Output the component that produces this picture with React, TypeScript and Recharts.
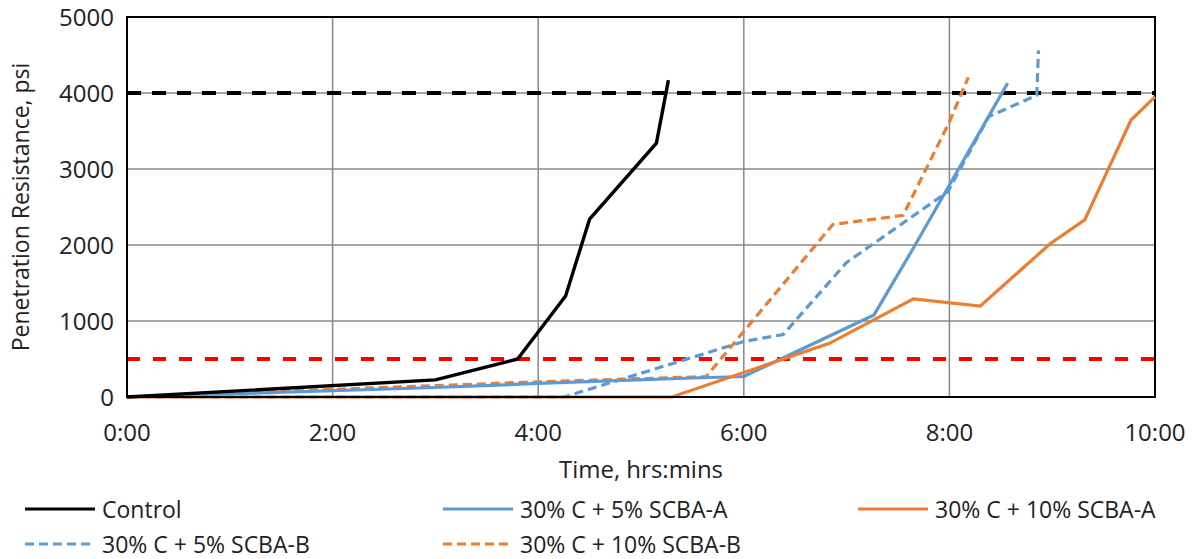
import React from "react"
import { LineChart, Line, XAxis, YAxis, CartesianGrid, ReferenceLine, ReferenceArea, Legend } from "recharts"

// times in minutes, penetration resistance in psi
const controlTime = [0, 180, 228, 256, 270, 309, 316]
const controlPsi = [0, 225, 500, 1330, 2340, 3340, 4170]

const scbaA5Time = [0, 180, 240, 330, 360, 436, 459, 514]
const scbaA5Psi = [0, 125, 178, 250, 270, 1080, 1960, 4130]

const scbaA10Time = [0, 318, 410, 459, 498, 539, 559, 586, 600]
const scbaA10Psi = [0, 0, 706, 1290, 1195, 2020, 2330, 3645, 3950]

const scbaB5Time = [0, 255, 360, 383, 420, 479, 503, 531, 532]
const scbaB5Psi = [0, 0, 730, 823, 1770, 2700, 3690, 3970, 4560]

const scbaB10Time = [0, 180, 240, 338, 412, 453, 480, 491]
const scbaB10Psi = [0, 150, 200, 268, 2270, 2390, 3620, 4205]

const xTicks = [0, 120, 240, 360, 480, 600]
const yTicks = [0, 1000, 2000, 3000, 4000, 5000]

const BLUE = "#5B9BD5"
const ORANGE = "#ED7D31"
const FONT = "'Open Sans', sans-serif"
const FS = 24

const zip = (t: number[], v: number[]) => t.map((x, i) => ({ t: x, v: v[i] }))

const fmtTime = (m: number) => `${Math.floor(m / 60)}:${String(m % 60).padStart(2, "0")}`

const legendItems = [
  { name: "Control", color: "#000", dash: undefined, left: 25, row: 0 },
  { name: "30% C + 5% SCBA-A", color: BLUE, dash: undefined, left: 443, row: 0 },
  { name: "30% C + 10% SCBA-A", color: ORANGE, dash: undefined, left: 858, row: 0 },
  { name: "30% C + 5% SCBA-B", color: BLUE, dash: "9 5", left: 25, row: 1 },
  { name: "30% C + 10% SCBA-B", color: ORANGE, dash: "9 5", left: 443, row: 1 },
]

function ChartLegend() {
  return (
    <div style={{ position: "relative", width: 1195, height: 80, fontFamily: FONT, fontSize: 23, lineHeight: "28px", color: "#222", overflow: "hidden" }}>
      {legendItems.map((it) => (
        <div
          key={it.name}
          style={{ position: "absolute", left: it.left, top: it.row === 0 ? 30 - 14 : 65 - 14, height: 28, display: "flex", alignItems: "center", whiteSpace: "nowrap" }}
        >
          <svg width={70} height={10} style={{ marginRight: 7 }}>
            <line x1={0} y1={5} x2={70} y2={5} stroke={it.color} strokeWidth={3.2} strokeDasharray={it.dash} />
          </svg>
          <span>{it.name}</span>
        </div>
      ))}
    </div>
  )
}

function YLabel() {
  return (
    <text
      x={20}
      y={207}
      transform="rotate(-90 20 207)"
      textAnchor="middle"
      dominantBaseline="central"
      style={{ fontSize: FS - 1, fill: "#222", fontFamily: FONT }}
    >
      Penetration Resistance, psi
    </text>
  )
}

export default function App() {
  const tickStyle = { fontSize: FS, fill: "#222", fontFamily: FONT }
  return (
    <div style={{ position: "absolute", left: 0, top: 0, background: "#fff" }}>
      <LineChart width={1195} height={559} margin={{ top: 17, right: 40, bottom: 0, left: 0 }}>
        <CartesianGrid stroke="#888" strokeWidth={1.5} />
        <XAxis
          dataKey="t"
          type="number"
          domain={[0, 600]}
          ticks={xTicks}
          tickFormatter={fmtTime}
          tick={tickStyle}
          tickLine={false}
          tickSize={0}
          tickMargin={27}
          axisLine={{ stroke: "#000", strokeWidth: 2 }}
          height={82}
          allowDuplicatedCategory={false}
          label={{ value: "Time, hrs:mins", position: "insideBottom", offset: 1, style: { fontSize: FS, fill: "#222", fontFamily: FONT } }}
        />
        <YAxis
          type="number"
          domain={[0, 5000]}
          ticks={yTicks}
          tick={tickStyle}
          tickLine={false}
          tickSize={0}
          tickMargin={13}
          axisLine={{ stroke: "#000", strokeWidth: 2 }}
          width={127}
          label={{ content: () => <YLabel /> }}
        />
        <ReferenceArea x1={0} x2={600} y1={0} y2={5000} fill="none" stroke="#000" strokeWidth={2} />
        <ReferenceLine y={4000} stroke="#000" strokeWidth={3.8} strokeDasharray="14 11" />
        <ReferenceLine y={500} stroke="#ff0000" strokeWidth={3.8} strokeDasharray="13 13" />
        <Line data={zip(scbaB5Time, scbaB5Psi)} dataKey="v" name="30% C + 5% SCBA-B" stroke={BLUE} strokeWidth={3.2} strokeDasharray="9 5" dot={false} type="linear" isAnimationActive={false} />
        <Line data={zip(scbaB10Time, scbaB10Psi)} dataKey="v" name="30% C + 10% SCBA-B" stroke={ORANGE} strokeWidth={3.2} strokeDasharray="9 5" dot={false} type="linear" isAnimationActive={false} />
        <Line data={zip(scbaA5Time, scbaA5Psi)} dataKey="v" name="30% C + 5% SCBA-A" stroke={BLUE} strokeWidth={3.2} dot={false} type="linear" isAnimationActive={false} />
        <Line data={zip(scbaA10Time, scbaA10Psi)} dataKey="v" name="30% C + 10% SCBA-A" stroke={ORANGE} strokeWidth={3.2} dot={false} type="linear" isAnimationActive={false} />
        <Line data={zip(controlTime, controlPsi)} dataKey="v" name="Control" stroke="#000" strokeWidth={3.4} dot={false} type="linear" isAnimationActive={false} />
        <Legend verticalAlign="bottom" content={() => <ChartLegend />} wrapperStyle={{ left: 0, bottom: 0, width: 1195, height: 80 }} />
      </LineChart>
    </div>
  )
}
